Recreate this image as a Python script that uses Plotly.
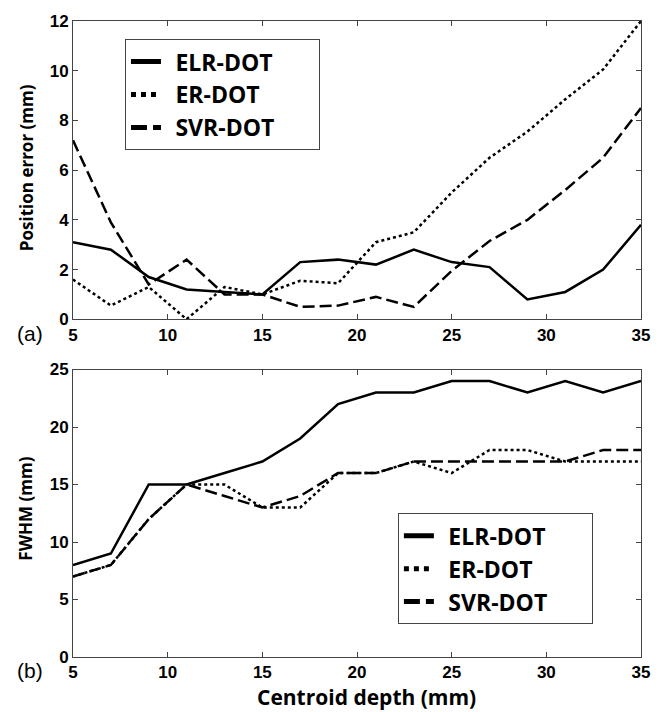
import plotly.graph_objects as go
from plotly.subplots import make_subplots

depth = [5, 7, 9, 11, 13, 15, 17, 19, 21, 23, 25, 27, 29, 31, 33, 35]

pos_elr = [3.1, 2.8, 1.7, 1.2, 1.1, 1.0, 2.3, 2.4, 2.2, 2.8, 2.3, 2.1, 0.8, 1.1, 2.0, 3.8]
pos_er = [1.6, 0.55, 1.3, 0.0, 1.3, 1.0, 1.55, 1.45, 3.1, 3.5, 5.1, 6.5, 7.55, 8.85, 10.05, 12.0]
pos_svr = [7.2, 3.9, 1.4, 2.4, 1.0, 1.0, 0.5, 0.55, 0.9, 0.5, 1.95, 3.15, 4.0, 5.2, 6.5, 8.5]

fwhm_elr = [8, 9, 15, 15, 16, 17, 19, 22, 23, 23, 24, 24, 23, 24, 23, 24]
fwhm_er = [7, 8, 12, 15, 15, 13, 13, 16, 16, 17, 16, 18, 18, 17, 17, 17]
fwhm_svr = [7, 8, 12, 15, 14, 13, 14, 16, 16, 17, 17, 17, 17, 17, 18, 18]

names = ["ELR-DOT", "ER-DOT", "SVR-DOT"]
dashes = ["solid", "3px,3px", "12px,5px"]
legend_dashes = ["solid", "5px,5px", "16px,6px"]
lead = "<span style='color:rgba(0,0,0,0)'>_</span>"
pad = "<span style='color:rgba(0,0,0,0)'>____</span>"

fig = make_subplots(rows=2, cols=1)

for row, series, leg in [(1, [pos_elr, pos_er, pos_svr], "legend"),
                         (2, [fwhm_elr, fwhm_er, fwhm_svr], "legend2")]:
    for ys, nm, ds in zip(series, names, dashes):
        fig.add_trace(go.Scatter(x=depth, y=ys, mode="lines", name=nm, showlegend=False,
                                 line=dict(color="black", width=2.5, dash=ds)),
                      row=row, col=1)
    # legend-only entries (thicker sample lines, as in the original)
    for nm, ds in zip(names, legend_dashes):
        fig.add_trace(go.Scatter(x=[None], y=[None], mode="lines", name=lead + nm + pad,
                                 line=dict(color="black", width=5, dash=ds),
                                 legend=leg, showlegend=True, hoverinfo="skip"),
                      row=row, col=1)

tickfont = dict(family="Liberation Sans", size=17, color="black", weight="bold")
axis_common = dict(showline=True, linecolor="#444", linewidth=1, mirror="ticks",
                   ticks="inside", ticklen=5, tickcolor="#444", showgrid=False,
                   zeroline=False, tickfont=tickfont)

fig.update_xaxes(range=[5, 35], tickvals=[5, 10, 15, 20, 25, 30, 35], **axis_common)
fig.update_yaxes(**axis_common)

legfont = dict(family="Open Sans", size=23, color="black", weight="bold")
titlefont = dict(family="Open Sans", size=17, color="black", weight="bold")
fig.update_layout(
    xaxis=dict(domain=[0, 1]),
    yaxis=dict(domain=[0.531, 1.0], range=[0, 12], tickvals=[0, 2, 4, 6, 8, 10, 12]),
    xaxis2=dict(domain=[0, 1]),
    yaxis2=dict(domain=[0, 0.452], range=[0, 25], tickvals=[0, 5, 10, 15, 20, 25]),
    legend=dict(x=0.0915, y=0.9715, xanchor="left", yanchor="top",
                bordercolor="#444", borderwidth=1, bgcolor="white", font=legfont),
    legend2=dict(x=0.572, y=0.2259, xanchor="left", yanchor="top",
                 bordercolor="#444", borderwidth=1, bgcolor="white", font=legfont),
    width=666, height=712,
    margin=dict(l=73, r=25, t=15, b=55),
    paper_bgcolor="white", plot_bgcolor="white",
    annotations=[
        dict(text="Position error (mm)", xref="paper", yref="paper",
             x=-0.083, y=0.77, textangle=-90, showarrow=False,
             xanchor="center", yanchor="middle", font=titlefont),
        dict(text="FWHM (mm)", xref="paper", yref="paper",
             x=-0.083, y=0.233, textangle=-90, showarrow=False,
             xanchor="center", yanchor="middle", font=titlefont),
        dict(text="Centroid depth (mm)", xref="paper", yref="paper",
             x=0.5176, y=-0.0628, showarrow=False, xanchor="center", yanchor="middle",
             font=dict(family="Open Sans", size=21, color="black", weight="bold")),
        dict(text="(a)", xref="paper", yref="paper", x=-0.076, y=0.509,
             xanchor="center", yanchor="middle", showarrow=False,
             font=dict(family="Liberation Sans", size=21, color="black")),
        dict(text="(b)", xref="paper", yref="paper", x=-0.076, y=-0.0206,
             xanchor="center", yanchor="middle", showarrow=False,
             font=dict(family="Liberation Sans", size=21, color="black")),
    ],
)

fig.write_html("out.html", config={"displayModeBar": False},
               post_script="document.body.style.margin='0';document.body.style.overflow='hidden';")
